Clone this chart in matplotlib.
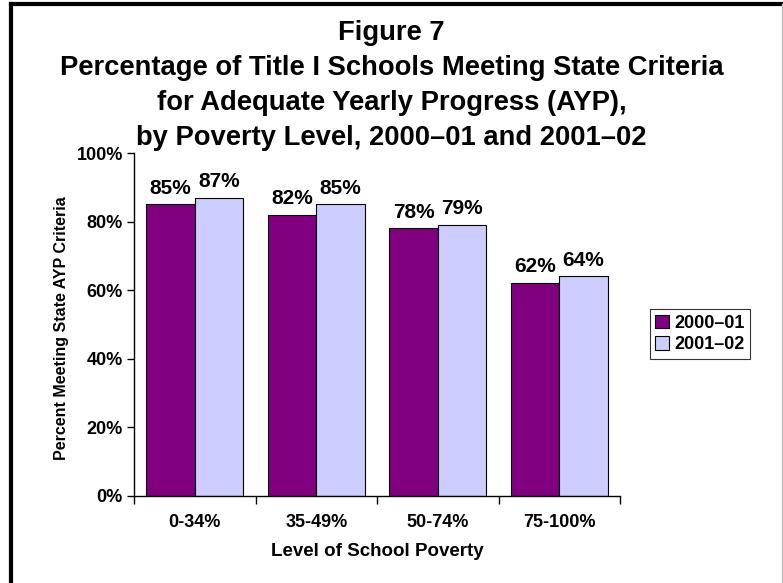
import numpy as np
import matplotlib.pyplot as plt
from matplotlib.ticker import FixedLocator, PercentFormatter

categories = ['0-34%', '35-49%', '50-74%', '75-100%']
series_names = ['2000\u201301', '2001\u201302']
values_0001 = [85, 82, 78, 62]
values_0102 = [87, 85, 79, 64]

plt.rcParams['font.family'] = ['Liberation Sans', 'DejaVu Sans']
plt.rcParams['font.weight'] = 'bold'

fig = plt.figure(figsize=(7.83, 5.83), dpi=100)
ax = fig.add_axes([134 / 783, 1 - 496 / 583, (620 - 134) / 783, (496 - 153) / 583])

x = np.arange(len(categories))
width = 0.4
rects_a = ax.bar(x - width / 2, values_0001, width, color='#800080',
                 edgecolor='black', linewidth=0.8, label=series_names[0])
rects_b = ax.bar(x + width / 2, values_0102, width, color='#CCCCFF',
                 edgecolor='black', linewidth=0.8, label=series_names[1])

for rects in (rects_a, rects_b):
    for rect in rects:
        h = rect.get_height()
        ax.annotate('{}%'.format(h),
                    xy=(rect.get_x() + rect.get_width() / 2, h),
                    xytext=(0, 5), textcoords='offset points',
                    ha='center', va='bottom', fontsize=15, fontweight='bold')

ax.set_xlim(-0.5, len(categories) - 0.5)
ax.set_ylim(0, 100)
ax.set_yticks([0, 20, 40, 60, 80, 100])
ax.yaxis.set_major_formatter(PercentFormatter(decimals=0))
ax.set_xticks(x)
ax.set_xticklabels(categories)
ax.xaxis.set_minor_locator(FixedLocator(np.arange(len(categories) + 1) - 0.5))
ax.tick_params(axis='x', which='major', length=0, pad=13, labelsize=13)
ax.tick_params(axis='x', which='minor', length=6, direction='out', width=1)
ax.tick_params(axis='y', length=5, direction='out', labelsize=13, width=1, pad=3)
for lab in ax.get_xticklabels() + ax.get_yticklabels():
    lab.set_fontweight('bold')

ax.spines['top'].set_visible(False)
ax.spines['right'].set_visible(False)
ax.spines['left'].set_linewidth(1)
ax.spines['bottom'].set_linewidth(1)

ax.set_xlabel('Level of School Poverty', fontsize=13.5, fontweight='bold')
ax.xaxis.set_label_coords(0.5, (496 - 552) / 343)
ax.xaxis.label.set_verticalalignment('center')
ax.set_ylabel('Percent Meeting State AYP Criteria', fontsize=11.5,
              fontweight='bold')
ax.yaxis.set_label_coords((62 - 134) / 486, 0.49)
ax.yaxis.label.set_verticalalignment('center')

leg = ax.legend(loc='center left', bbox_to_anchor=(641 / 783, 1 - 334 / 583),
                bbox_transform=fig.transFigure, frameon=True, fancybox=False,
                edgecolor='black', handlelength=0.75,
                handleheight=0.75, handletextpad=0.3, borderpad=0.3,
                labelspacing=0.25, prop={'weight': 'bold', 'size': 13})
leg.get_frame().set_linewidth(0.8)

title_lines = ['Figure 7',
               'Percentage of Title I Schools Meeting State Criteria',
               'for Adequate Yearly Progress (AYP),',
               'by Poverty Level, 2000\u201301 and 2001\u201302']
title_base = [40, 75, 110, 145]
for line, yy in zip(title_lines, title_base):
    fig.text(0.5, 1 - yy / 583, line, ha='center', va='baseline',
             fontsize=19.7, fontweight='bold')

# outer frame: thick left/top, thin grey right
fig.add_artist(plt.Line2D([11 / 783, 11 / 783], [0, 1 - 4 / 583],
                          transform=fig.transFigure, color='black', linewidth=3))
fig.add_artist(plt.Line2D([11 / 783, 1], [1 - 4 / 583, 1 - 4 / 583],
                          transform=fig.transFigure, color='black', linewidth=3))
fig.add_artist(plt.Line2D([782 / 783, 782 / 783], [0, 1 - 4 / 583],
                          transform=fig.transFigure, color='#bbbbbb', linewidth=1))

fig.savefig('out.png', dpi=100)
